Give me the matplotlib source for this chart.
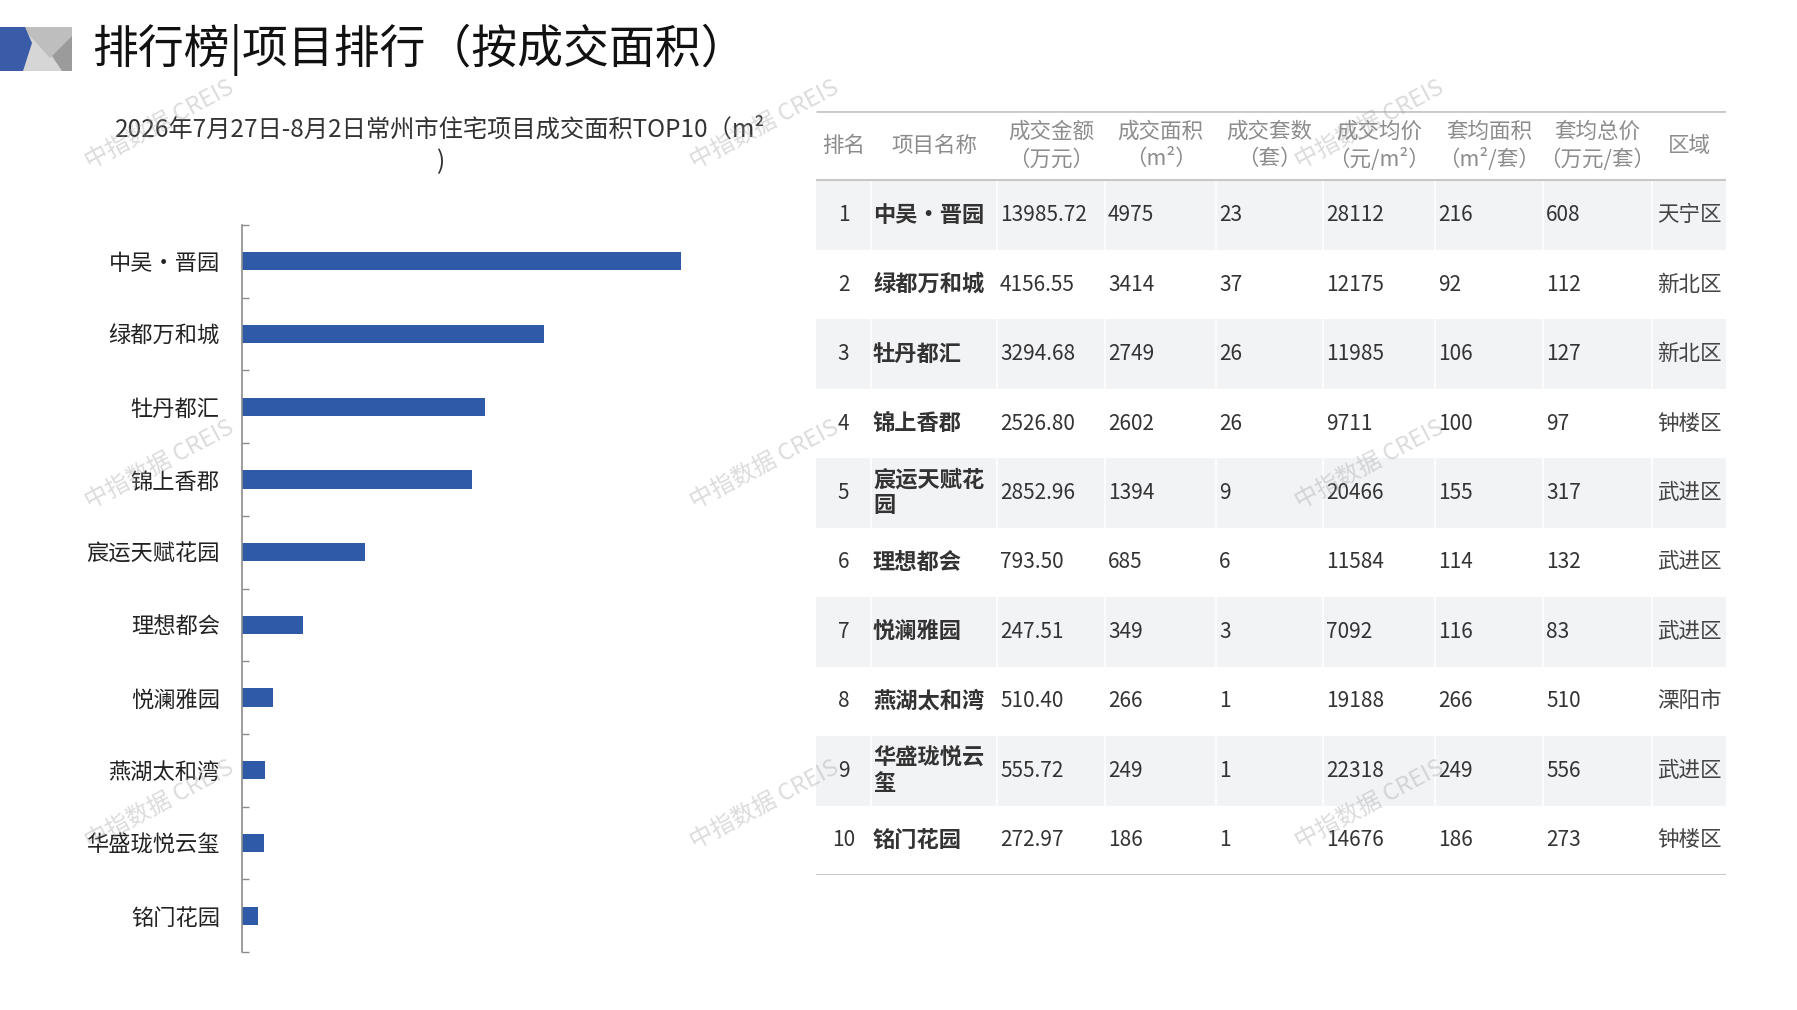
import matplotlib
matplotlib.use("Agg")
import matplotlib.pyplot as plt
from matplotlib.patches import Polygon, Rectangle
import numpy as np

plt.rcParams['font.family'] = ['Noto Sans CJK SC', 'DejaVu Sans']

# ---------------- data ----------------
projects = ["中吴•晋园", "绿都万和城", "牡丹都汇", "锦上香郡", "宸运天赋花园",
            "理想都会", "悦澜雅园", "燕湖太和湾", "华盛珑悦云玺", "铭门花园"]
ranks = [1, 2, 3, 4, 5, 6, 7, 8, 9, 10]
amount = [13985.72, 4156.55, 3294.68, 2526.80, 2852.96, 793.50, 247.51, 510.40, 555.72, 272.97]
area = [4975, 3414, 2749, 2602, 1394, 685, 349, 266, 249, 186]
units = [23, 37, 26, 26, 9, 6, 3, 1, 1, 1]
price = [28112, 12175, 11985, 9711, 20466, 11584, 7092, 19188, 22318, 14676]
avg_area = [216, 92, 106, 100, 155, 114, 116, 266, 249, 186]
avg_total = [608, 112, 127, 97, 317, 132, 83, 510, 556, 273]
district = ["天宁区", "新北区", "新北区", "钟楼区", "武进区", "武进区", "武进区", "溧阳市", "武进区", "钟楼区"]
headers = ["排名", "项目名称", "成交金额\n（万元）", "成交面积\n（m²）", "成交套数\n（套）",
           "成交均价\n（元/m²）", "套均面积\n（m²/套）", "套均总价\n（万元/套）", "区域"]

page_title = "排行榜|项目排行（按成交面积）"
chart_title = "2026年7月27日-8月2日常州市住宅项目成交面积TOP10（m²\n)"
watermark = "中指数据 CREIS"

W, H = 1797, 1010
fig = plt.figure(figsize=(W / 100, H / 100), dpi=100)
fig.patch.set_facecolor('white')

# ---------------- decorative header logo ----------------
deco = fig.add_axes([0, 0, 1, 1], zorder=0)
deco.set_xlim(0, W)
deco.set_ylim(H, 0)
deco.axis('off')
deco.add_patch(Rectangle((0, 27), 72, 44, color='#D6D6D6', lw=0))
deco.add_patch(Polygon([(22, 27), (72, 27), (72, 38), (50, 58)], closed=True, color='#BEBEBE', lw=0))
deco.add_patch(Polygon([(72, 36), (72, 71), (62, 71), (52, 56)], closed=True, color='#9B9B9B', lw=0))
deco.add_patch(Polygon([(0, 27), (25, 27), (32, 43), (23, 71), (0, 71)], closed=True, color='#3A5BA8', lw=0))

fig.text(92 / W, 1 - 50 / H, page_title, fontsize=33, va='center', ha='left', color='#111111')

# ---------------- bar chart ----------------
ax = fig.add_axes([242 / W, (H - 952) / H, (772 - 242) / W, (952 - 225) / H], zorder=1)
ax.patch.set_alpha(0)
ypos = np.arange(len(projects))
ax.barh(ypos, area, height=0.25, color='#2E5AA8')
ax.set_ylim(len(projects) - 0.5, -0.5)
ax.set_xlim(0, 6000)
ax.set_yticks(ypos, projects)
ax.set_yticks(np.arange(-0.5, len(projects)), minor=True)
ax.tick_params(axis='y', which='major', length=0, pad=16, labelsize=16, labelcolor='#222222')
ax.tick_params(axis='y', which='minor', length=5, width=1, direction='in', color='#8C8C8C')
ax.set_xticks([])
for s in ['top', 'right', 'bottom']:
    ax.spines[s].set_visible(False)
ax.spines['left'].set_color('#8C8C8C')
ax.spines['left'].set_linewidth(1.2)

fig.text(440 / W, 1 - 146 / H, chart_title, fontsize=17.5, ha='center', va='center',
         color='#333333', linespacing=1.35, multialignment='center')

# ---------------- table ----------------
tx = fig.add_axes([816 / W, (H - 875) / H, 910 / W, 764 / H], zorder=1)
tx.set_xlim(0, 910)
tx.set_ylim(11, 0)
tx.axis('off')
col_edges = [0, 55, 181, 289, 400, 507, 619, 727, 836, 910]
centers = [(col_edges[i] + col_edges[i + 1]) / 2 for i in range(len(col_edges) - 1)]
nrows = len(projects)

for i in range(nrows):
    r = i + 1
    if i % 2 == 0:
        tx.add_patch(Rectangle((0, r), 910, 1, color='#F2F3F5', lw=0))
        for e in col_edges[1:-1]:
            tx.plot([e, e], [r, r + 1], color='white', lw=1.2)
for yl, lw in [(0, 2), (1, 1.5), (nrows + 1, 1.5)]:
    tx.plot([0, 910], [yl, yl], color='#C8C8C8', lw=lw, solid_capstyle='butt')

for j, h in enumerate(headers):
    tx.text(centers[j], 0.5, h, ha='center', va='center', fontsize=15.5,
            color='#8C8C8C', linespacing=1.3)

def wrap(name, n=5):
    return name if len(name) <= n else name[:n] + "\n" + name[n:]

for i in range(nrows):
    yc = i + 1.5
    tx.text(centers[0], yc, str(ranks[i]), ha='center', va='center', fontsize=15, color='#333333')
    tx.text(col_edges[1] + 2, yc, wrap(projects[i]), ha='left', va='center', fontsize=16,
            fontweight='bold', color='#333333', linespacing=1.15)
    vals = [f"{amount[i]:.2f}", str(area[i]), str(units[i]), str(price[i]),
            str(avg_area[i]), str(avg_total[i])]
    for k, v in enumerate(vals):
        tx.text(col_edges[2 + k] + 3, yc, v, ha='left', va='center', fontsize=15, color='#333333')
    tx.text(centers[8], yc, district[i], ha='center', va='center', fontsize=15.5, color='#444444')

# ---------------- watermarks ----------------
for wy in [125, 465, 805]:
    for wx in [160, 765, 1370]:
        fig.text(wx / W, 1 - wy / H, watermark, rotation=28, ha='center', va='center',
                 rotation_mode='anchor', fontsize=17, color='#9A9A9A', alpha=0.35, zorder=10)

fig.savefig('out.png', dpi=100, facecolor='white')
